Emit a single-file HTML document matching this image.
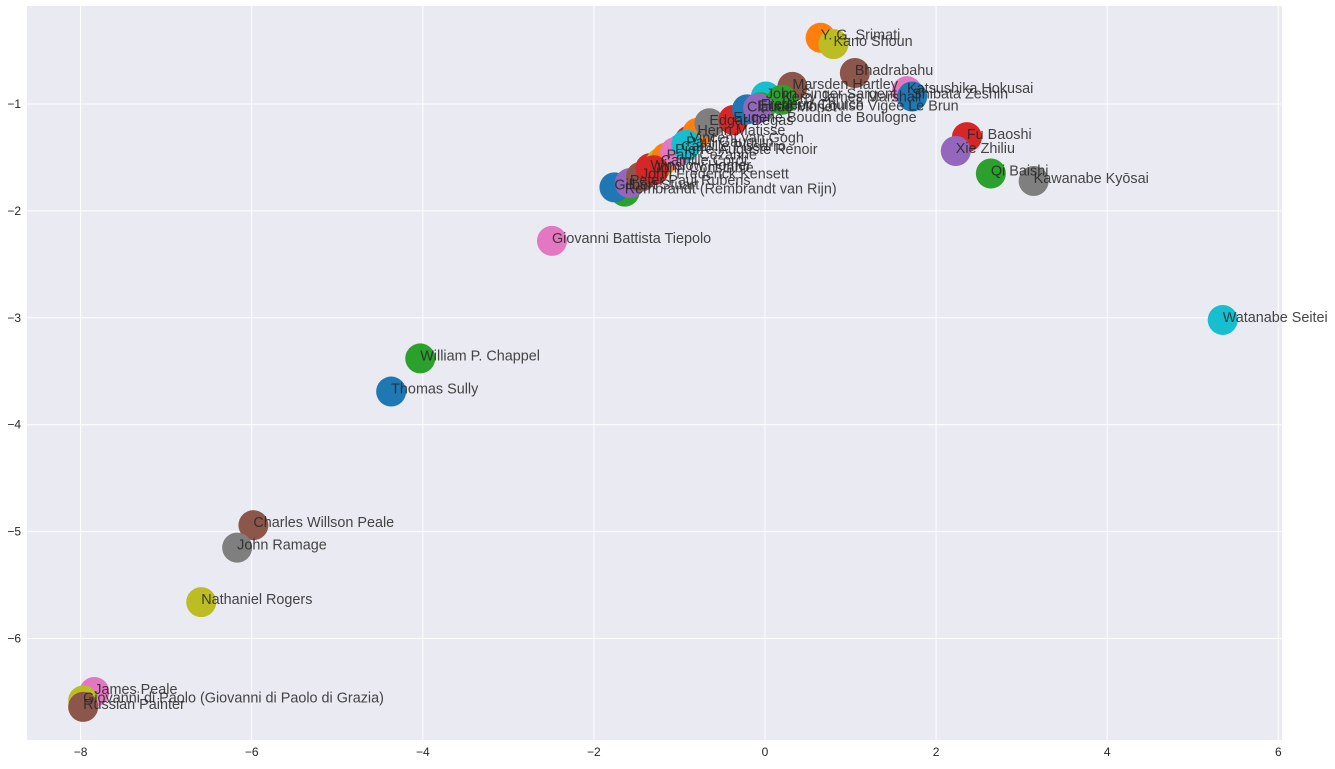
<!DOCTYPE html>
<html><head><meta charset="utf-8"><style>
body{margin:0;background:#fff;}
svg{display:block;font-family:"Liberation Sans","DejaVu Sans",sans-serif;}
</style></head><body>
<svg id="chart" width="1335" height="769"></svg>
<script>
const names=["Y. G. Srimati","Kano Shoun","Bhadrabahu","Katsushika Hokusai","Shibata Zeshin","Marsden Hartley","John Singer Sargent","Kerry James Marshall","Fu Baoshi","Xie Zhiliu","Qi Baishi","Kawanabe Kyōsai","Watanabe Seitei","Giovanni Battista Tiepolo","William P. Chappel","Thomas Sully","Charles Willson Peale","John Ramage","Nathaniel Rogers","James Peale","Giovanni di Paolo (Giovanni di Paolo di Grazia)","Russian Painter","Rembrandt (Rembrandt van Rijn)","Gilbert Stuart","Peter Paul Rubens","John Frederick Kensett","Winslow Homer","Camille Corot","Paul Cezanne","Camille Pissarro","Vincent van Gogh","Henri Matisse","Edgar Degas","Eugène Boudin de Boulogne","Claude Monet","Frederic Church","Elisabeth Louise Vigée Le Brun","Pierre-Auguste Renoir","Paul Gauguin","John Constable"];
const xs=[0.65,0.8,1.05,1.66,1.72,0.32,0.01,0.2,2.36,2.23,2.64,3.14,5.35,-2.49,-4.03,-4.37,-5.98,-6.17,-6.59,-7.84,-7.97,-7.97,-1.64,-1.76,-1.58,-1.45,-1.34,-1.22,-1.15,-0.98,-0.88,-0.79,-0.65,-0.37,-0.21,-0.05,-0.08,-1.05,-0.92,-1.3];
const ys=[-0.38,-0.44,-0.71,-0.88,-0.93,-0.84,-0.93,-0.96,-1.31,-1.44,-1.65,-1.72,-3.02,-2.28,-3.38,-3.69,-4.94,-5.15,-5.66,-6.5,-6.58,-6.64,-1.82,-1.78,-1.74,-1.68,-1.6,-1.55,-1.5,-1.42,-1.34,-1.27,-1.18,-1.15,-1.05,-1.03,-1.04,-1.45,-1.38,-1.62];
const xticks=[-8,-6,-4,-2,0,2,4,6];
const yticks=[-6,-5,-4,-3,-2,-1];
const palette=["#1f77b4","#ff7f0e","#2ca02c","#d62728","#9467bd","#8c564b","#e377c2","#7f7f7f","#bcbd22","#17becf"];
const colorIdx=[1,8,5,6,0,5,9,2,3,4,2,7,9,6,2,0,5,7,8,6,8,5,2,0,4,5,3,8,1,9,3,1,7,3,0,2,4,6,9,3];

const L=27,R=1282,T=6,B=740;
const X=v=>765+v*85.55;
const Y=v=>104-(v+1)*106.9;
const svg=document.getElementById('chart');
const NS='http://www.w3.org/2000/svg';
function mk(t,a){const e=document.createElementNS(NS,t);for(const k in a)e.setAttribute(k,a[k]);svg.appendChild(e);return e;}
const bg=mk('rect',{x:L,y:T,width:R-L,height:B-T,fill:'#eaeaf2'});


xticks.forEach(t=>{
  const g=mk('line',{x1:X(t),x2:X(t),y1:T,y2:B,stroke:'#fff','stroke-width':1});
  
  
  const tx=mk('text',{x:X(t),y:B+16,'text-anchor':'middle','font-size':12,fill:'#262626'});
  tx.textContent=(t<0?'\u2212'+(-t):t);
  
  
});
yticks.forEach(t=>{
  const g=mk('line',{x1:L,x2:R,y1:Y(t),y2:Y(t),stroke:'#fff','stroke-width':1});
  
  
  const tx=mk('text',{x:L-6,y:Y(t)+4,'text-anchor':'end','font-size':12,fill:'#262626'});
  tx.textContent='\u2212'+(-t);
  
  
});
names.forEach((n,i)=>{
  const c=mk('circle',{cx:X(xs[i]),cy:Y(ys[i]),r:15,fill:palette[colorIdx[i]]});
  
  
});
names.forEach((n,i)=>{
  const tx=mk('text',{x:X(xs[i]),y:Y(ys[i])+2,'font-size':14.4,fill:'#262626','fill-opacity':0.85});
  tx.textContent=n;
  
  
});
</script>
</body></html>
